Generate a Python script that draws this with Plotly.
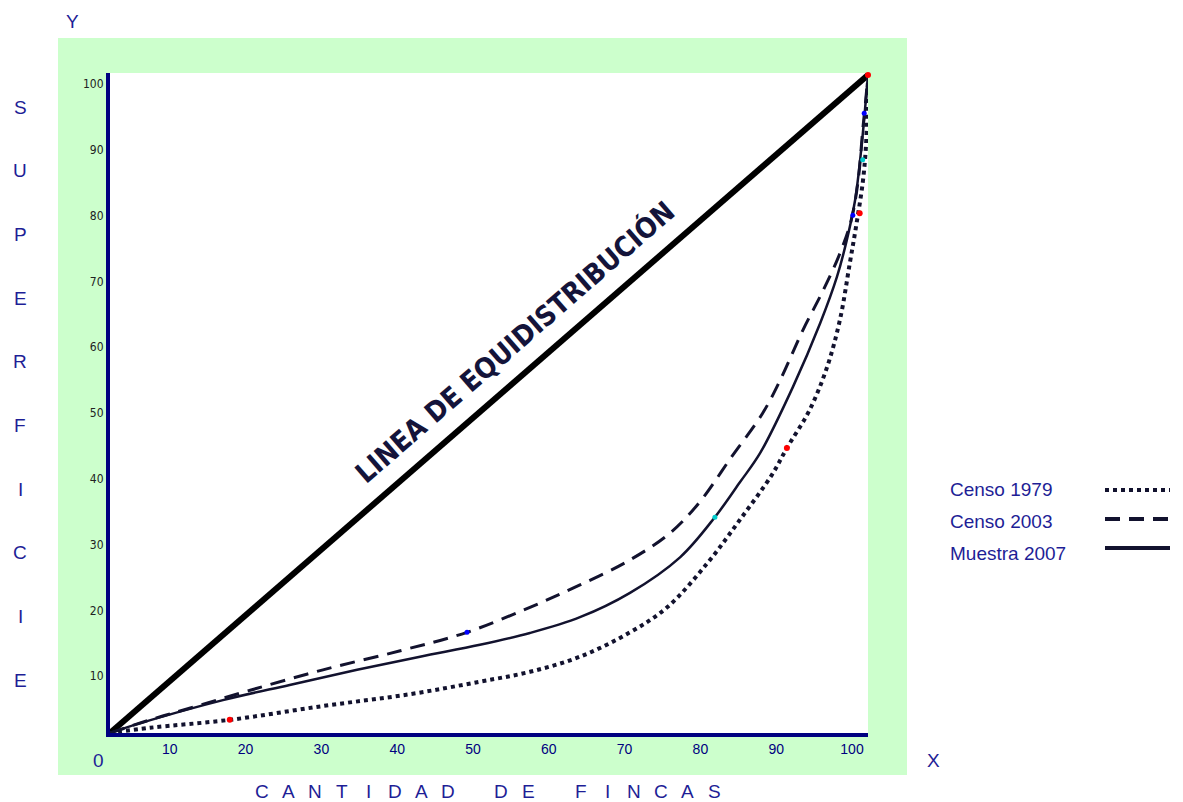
import plotly.graph_objects as go

# ---------------- data ----------------
equi_x = [0, 100]
equi_y = [0, 100]

c1979_x = [0, 5.3, 15.8, 28.1, 39.6, 48.8, 55.4, 62.0, 68.6, 73.5, 78.8, 83.1, 87.3, 89.3, 92.3, 94.6, 96.3, 97.6, 98.5, 99.3, 99.7, 99.9, 100]
c1979_y = [0, 0.8, 2.0, 4.1, 5.9, 7.8, 9.3, 11.6, 15.3, 19.1, 25.8, 32.4, 39.2, 43.3, 49.1, 55.6, 62.8, 71.4, 77.5, 83.6, 88.6, 94.7, 100]

c2003_x = [0, 5.3, 10.6, 18.5, 28.1, 38.3, 47.1, 55.4, 62.0, 68.6, 73.9, 77.8, 81.9, 86.1, 88.4, 91.4, 94.1, 96.3, 97.8, 98.7, 99.3, 99.7, 100]
c2003_y = [0, 2.0, 3.8, 6.5, 9.6, 12.5, 15.3, 19.1, 22.5, 26.3, 30.4, 35.1, 41.8, 48.6, 53.6, 61.2, 67.3, 72.9, 78.0, 84.0, 91.6, 96.2, 100]

m2007_x = [0, 4.0, 14.9, 23.7, 32.6, 40.9, 48.8, 55.4, 62.0, 68.6, 75.2, 79.8, 83.1, 85.8, 90.1, 93.7, 95.9, 97.2, 98.3, 99.1, 99.6, 100]
m2007_y = [0, 1.5, 5.0, 7.3, 9.6, 11.6, 13.4, 15.2, 17.6, 21.3, 26.7, 32.8, 38.1, 42.6, 52.6, 62.3, 69.3, 74.9, 81.0, 88.6, 94.7, 100]

pts1979_x = [15.8, 89.3, 98.9, 100]
pts1979_y = [2.0, 43.3, 79.0, 100]
pts2003_x = [47.1, 98.0, 99.5]
pts2003_y = [15.3, 78.7, 94.2]
pts2007_x = [79.8, 99.3]
pts2007_y = [32.8, 87.1]

tick_vals = [10, 20, 30, 40, 50, 60, 70, 80, 90, 100]
tick_text = ["10", "20", "30", "40", "50", "60", "70", "80", "90", "100"]

series_names = ["Censo 1979", "Censo 2003", "Muestra 2007"]
y_title = "SUPERFICIE"
x_title = "CANTIDAD DE FINCAS"
equi_label = "LINEA DE EQUIDISTRIBUCIÓN"

# ---------------- styling ----------------
W, H = 1183, 802
L, R, T, B = 110, 868, 73, 733   # plot area in pixels
PW, PH = R - L, B - T
NAVY = "#000080"
TXT = "#1e1e96"
INK = "#12122e"
GREEN = "#ccffcc"
DASH2003 = "15px,9px"
SANS = "Liberation Sans, Arial, sans-serif"
NARROW = "Liberation Sans Narrow, DejaVu Sans Condensed, sans-serif"
SMOOTH = 1.0


def px(xp):
    return (xp - L) / PW


def py(yp):
    return (B - yp) / PH


fig = go.Figure()

fig.add_trace(go.Scatter(x=equi_x, y=equi_y, mode="lines",
                         line=dict(color="#000000", width=6), showlegend=False, hoverinfo="skip"))
fig.add_trace(go.Scatter(x=c1979_x, y=c1979_y, mode="lines", name=series_names[0],
                         line=dict(color=INK, width=4, dash="dot", shape="spline", smoothing=SMOOTH),
                         showlegend=False))
fig.add_trace(go.Scatter(x=c2003_x, y=c2003_y, mode="lines", name=series_names[1],
                         line=dict(color=INK, width=3, dash=DASH2003, shape="spline", smoothing=SMOOTH),
                         showlegend=False))
fig.add_trace(go.Scatter(x=m2007_x, y=m2007_y, mode="lines", name=series_names[2],
                         line=dict(color=INK, width=2.5, shape="spline", smoothing=SMOOTH),
                         showlegend=False))
fig.add_trace(go.Scatter(x=pts1979_x, y=pts1979_y, mode="markers",
                         marker=dict(color="#ff0000", size=6), showlegend=False, cliponaxis=False))
fig.add_trace(go.Scatter(x=pts2003_x, y=pts2003_y, mode="markers",
                         marker=dict(color="#0000ff", size=5), showlegend=False, cliponaxis=False))
fig.add_trace(go.Scatter(x=pts2007_x, y=pts2007_y, mode="markers",
                         marker=dict(color="#00cccc", size=5), showlegend=False, cliponaxis=False))

shapes = [
    dict(type="rect", xref="paper", yref="paper", x0=px(58), x1=px(907), y0=py(775), y1=py(38),
         fillcolor=GREEN, line=dict(width=0), layer="below"),
    dict(type="rect", xref="paper", yref="paper", x0=0, x1=1, y0=0, y1=1,
         fillcolor="#ffffff", line=dict(width=0), layer="below"),
]
# legend samples (text left, line sample right)
leg_y = [490, 519, 548]
leg_dash = ["dot", DASH2003, "solid"]
for yy, dd in zip(leg_y, leg_dash):
    shapes.append(dict(type="line", xref="paper", yref="paper", x0=px(1105), x1=px(1170),
                       y0=py(yy), y1=py(yy), line=dict(color=INK, width=4, dash=dd)))

annotations = []
for name, yy in zip(series_names, [489, 521, 553]):
    annotations.append(dict(xref="paper", yref="paper", x=px(948), y=py(yy), text=name,
                            showarrow=False, xanchor="left", yanchor="middle",
                            font=dict(family=SANS, size=19, color=TXT)))

# vertical axis title, letter by letter
for i, ch in enumerate(y_title):
    annotations.append(dict(xref="paper", yref="paper", x=px(20), y=py(107 + i * 63.7), text=ch,
                            showarrow=False, xanchor="center", yanchor="middle",
                            font=dict(family=SANS, size=19, color=TXT)))
# horizontal axis title, spaced letters
for i, ch in enumerate(x_title):
    if ch == " ":
        continue
    annotations.append(dict(xref="paper", yref="paper", x=px(262 + i * 26.6), y=py(791), text=ch,
                            showarrow=False, xanchor="center", yanchor="middle",
                            font=dict(family=SANS, size=19, color=TXT)))

for txt, xx, yy in [("Y", 72, 22), ("X", 933, 760), ("0", 98, 760)]:
    annotations.append(dict(xref="paper", yref="paper", x=px(xx), y=py(yy), text=txt, showarrow=False,
                            xanchor="center", yanchor="middle",
                            font=dict(family=SANS, size=19, color=TXT)))

annotations.append(dict(xref="x", yref="y", x=53.4, y=59.4, text="<b>" + equi_label + "</b>",
                        showarrow=False, textangle=-41, xanchor="center", yanchor="middle",
                        font=dict(family=NARROW, size=28, color="#14143a")))

fig.update_layout(
    width=W, height=H, autosize=False,
    margin=dict(l=L, r=W - R, t=T, b=H - B, pad=0),
    paper_bgcolor="#ffffff", plot_bgcolor="#ffffff",
    shapes=shapes, annotations=annotations, showlegend=False,
    xaxis=dict(range=[0, 100], showgrid=False, zeroline=False, showline=True,
               linecolor=NAVY, linewidth=4, ticks="", tickvals=tick_vals, ticktext=tick_text,
               tickfont=dict(family=SANS, size=14, color=NAVY),
               ticklabelshift=-16, ticklabelstandoff=0, fixedrange=True),
    yaxis=dict(range=[0, 100.3], showgrid=False, zeroline=False, showline=True,
               linecolor=NAVY, linewidth=4, ticks="", tickvals=tick_vals, ticktext=tick_text,
               tickfont=dict(family=NARROW, size=12, color="#222222"),
               ticklabelshift=9, ticklabelstandoff=0, fixedrange=True),
)

fig.write_html("out.html", config={"displayModeBar": False},
               post_script="document.body.style.margin='0';document.body.style.overflow='hidden';")
